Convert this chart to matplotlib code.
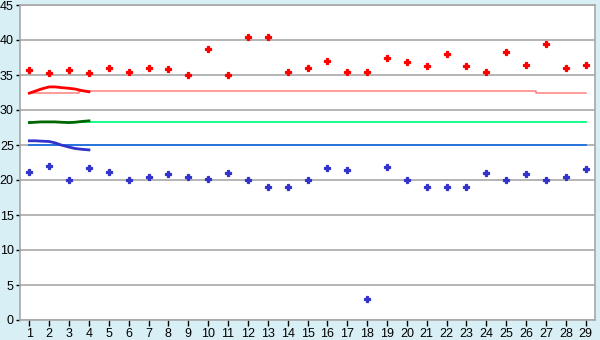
import matplotlib
matplotlib.use("Agg")
import matplotlib.pyplot as plt
import numpy as np

days = list(range(1, 30))
red_pts = [35.7, 35.3, 35.7, 35.3, 36.0, 35.4, 36.0, 35.8, 35.0, 38.7,
           35.0, 40.5, 40.5, 35.4, 36.0, 37.0, 35.4, 35.4, 37.4, 36.8,
           36.3, 38.0, 36.3, 35.5, 38.3, 36.4, 39.4, 36.0, 36.5]
blue_pts = [21.1, 22.0, 20.0, 21.7, 21.1, 20.0, 20.5, 20.8, 20.4, 20.2,
            21.0, 20.0, 19.0, 19.0, 20.0, 21.7, 21.4, 3.0, 21.8, 20.0,
            19.0, 19.0, 19.0, 21.0, 20.0, 20.8, 20.0, 20.4, 21.6]
pink_avg = [32.5, 32.5, 32.5] + [32.7] * 23 + [32.5, 32.5, 32.5]
green_avg = [28.25] * 29
blue_avg = [25.0] * 29

trend_x = [1.0, 1.3, 1.6, 2.0, 2.3, 2.6, 3.0, 3.3, 3.6, 4.0]
red_trend = [32.4, 32.7, 33.0, 33.3, 33.3, 33.2, 33.1, 33.0, 32.8, 32.6]
green_trend = [28.2, 28.25, 28.3, 28.3, 28.3, 28.25, 28.2, 28.25, 28.35, 28.45]
navy_trend = [25.6, 25.6, 25.55, 25.5, 25.3, 25.0, 24.7, 24.5, 24.4, 24.3]

plt.rcParams['font.family'] = ['Liberation Sans', 'DejaVu Sans']

fig = plt.figure(figsize=(6, 3.4), dpi=100)
fig.patch.set_facecolor("#D9EFF6")
ax = fig.add_axes([20/600, 20/340, 575/600, 315/340])
ax.set_facecolor("white")

ax.set_xlim(0.53, 29.47)
ax.set_ylim(0, 45)
ax.set_yticks(range(0, 46, 5))
ax.set_xticks(days)
ax.yaxis.grid(True, color="#A8A8A8", linewidth=1.2)
ax.set_axisbelow(True)

for s in ["left", "bottom", "right", "top"]:
    ax.spines[s].set_color("#A8A8A8")
    ax.spines[s].set_linewidth(1.2)

ax.tick_params(axis="x", colors="black", labelsize=9, length=4,
               width=1, direction="out", pad=2)
ax.tick_params(axis="y", colors="black", labelsize=9, length=3,
               width=1, direction="out", pad=1.5)

ax.plot(days, pink_avg, color="#FF8080", linewidth=1.1, drawstyle="steps-mid")
ax.plot(days, green_avg, color="#00FF80", linewidth=1.3)
ax.plot(days, blue_avg, color="#1A6EE0", linewidth=1.3)

ax.plot(trend_x, red_trend, color="#FF0000", linewidth=2.0)
ax.plot(trend_x, green_trend, color="#006600", linewidth=2.0)
ax.plot(trend_x, navy_trend, color="#3333CC", linewidth=2.0)

ax.plot(days, red_pts, linestyle="none", marker="P", markersize=4.5,
        color="#FF0000", markeredgecolor="#FF0000", markeredgewidth=0.9)
ax.plot(days, blue_pts, linestyle="none", marker="P", markersize=4.5,
        color="#3333CC", markeredgecolor="#3333CC", markeredgewidth=0.9)

fig.savefig("out.png", dpi=100, facecolor=fig.get_facecolor())
